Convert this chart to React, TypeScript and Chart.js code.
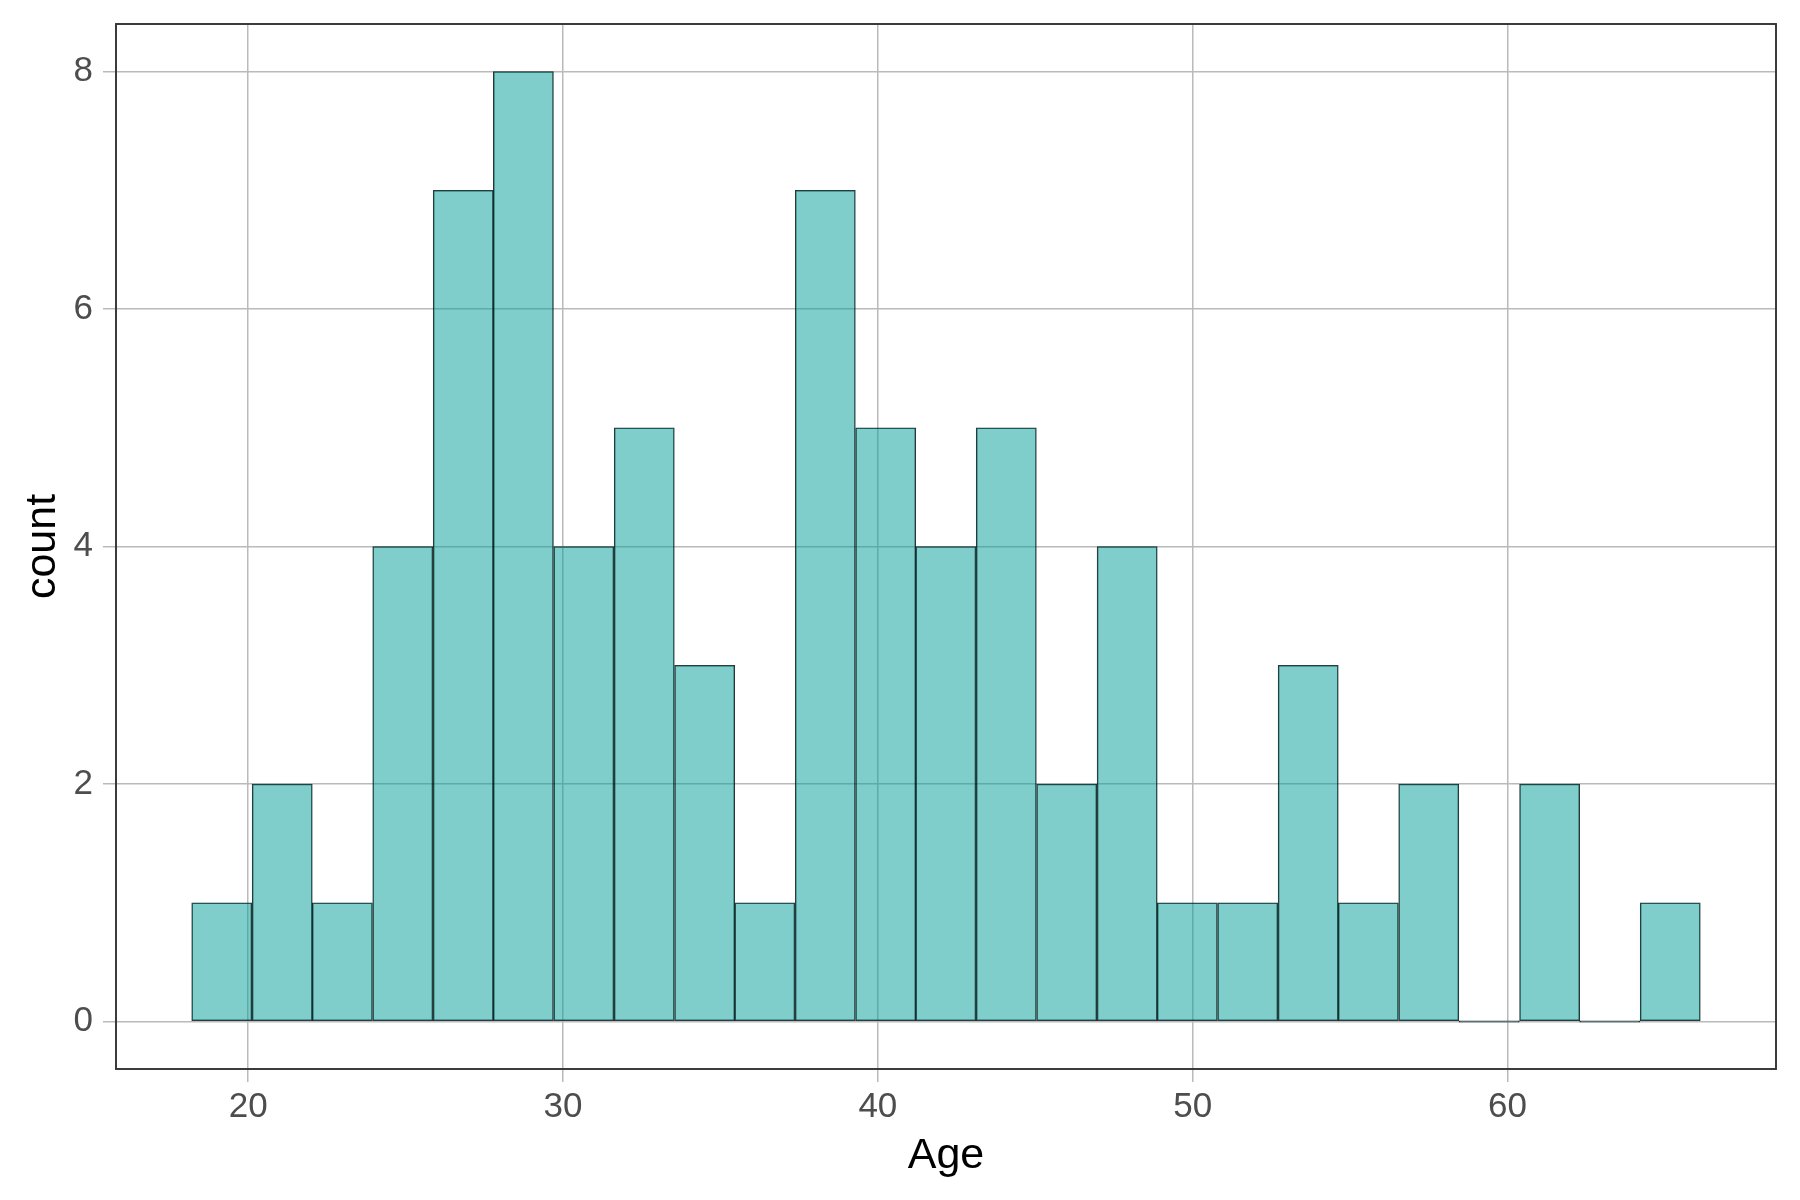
import React, { useEffect, useRef } from "react";
import { Chart, registerables } from "chart.js";

Chart.register(...registerables);

// Histogram of Age (25 bins, width ≈ 1.917)
const binCenters = [
  19.16, 21.08, 22.99, 24.91, 26.83, 28.74, 30.66, 32.58, 34.5, 36.41, 38.33, 40.25, 42.16,
  44.08, 46.0, 47.92, 49.83, 51.75, 53.67, 55.58, 57.5, 59.42, 61.34, 63.25, 65.17,
];
const counts = [1, 2, 1, 4, 7, 8, 4, 5, 3, 1, 7, 5, 4, 5, 2, 4, 1, 1, 3, 1, 2, 0, 2, 0, 1];
const xTicks = [20, 30, 40, 50, 60];
const yTicks = [0, 2, 4, 6, 8];
const xRange = [15.8, 68.53];
const yRange = [-0.4, 8.4];
const xTitle = "Age";
const yTitle = "count";

const FONT = "'Liberation Sans', Arial, Helvetica, sans-serif";

const panelBorder = {
  id: "panelBorder",
  afterDraw(chart: any) {
    const { ctx, chartArea: a } = chart;
    ctx.save();
    ctx.strokeStyle = "#333333";
    ctx.lineWidth = 1.9;
    ctx.strokeRect(a.left, a.top, a.right - a.left, a.bottom - a.top);
    ctx.restore();
  },
};

export default function App() {
  const ref = useRef<HTMLCanvasElement | null>(null);

  useEffect(() => {
    if (!ref.current) return;
    const chart = new Chart(ref.current, {
      type: "bar",
      data: {
        datasets: [
          {
            label: "count",
            data: binCenters.map((x, i) => ({ x, y: counts[i] })),
            backgroundColor: "rgba(0,157,151,0.5)",
            borderColor: "rgba(0,0,0,0.82)",
            borderWidth: 0.9,
            borderSkipped: false,
            minBarLength: 1.5,
            barPercentage: 1,
            categoryPercentage: 1,
          },
        ],
      },
      options: {
        responsive: false,
        animation: false,
        layout: { padding: { left: 0, top: 24, right: 24, bottom: 0 } },
        plugins: {
          legend: { display: false },
          tooltip: { enabled: false },
        },
        scales: {
          x: {
            type: "linear",
            offset: false,
            min: xRange[0],
            max: xRange[1],
            afterFit: (s: any) => {
              s.height = 131;
              s.paddingLeft = 0;
              s.paddingRight = 0;
            },
            afterBuildTicks: (s: any) => {
              s.ticks = xTicks.map((v) => ({ value: v }));
            },
            ticks: {
              color: "#4d4d4d",
              font: { family: FONT, size: 35 },
              padding: 4,
              maxRotation: 0,
              autoSkip: false,
            },
            grid: {
              offset: false,
              color: "#bababa",
              lineWidth: 1.5,
              tickLength: 13,
              drawTicks: true,
            },
            border: { display: false },
            title: {
              display: true,
              text: xTitle,
              color: "#000000",
              font: { family: FONT, size: 43, lineHeight: 1.2 },
              padding: { top: 0, bottom: 18 },
            },
          },
          y: {
            type: "linear",
            min: yRange[0],
            max: yRange[1],
            afterFit: (s: any) => {
              s.width = 116;
              s.paddingTop = 0;
              s.paddingBottom = 0;
            },
            afterBuildTicks: (s: any) => {
              s.ticks = yTicks.map((v) => ({ value: v }));
            },
            ticks: {
              color: "#4d4d4d",
              font: { family: FONT, size: 35 },
              padding: 10,
              autoSkip: false,
            },
            grid: {
              color: "#bababa",
              lineWidth: 1.5,
              tickLength: 13,
              drawTicks: true,
            },
            border: { display: false },
            title: {
              display: true,
              text: yTitle,
              color: "#000000",
              font: { family: FONT, size: 43, lineHeight: 1.2 },
              padding: { top: 17, bottom: 0 },
            },
          },
        },
      },
      plugins: [panelBorder],
    });
    return () => chart.destroy();
  }, []);

  return (
    <div style={{ position: "absolute", left: 0, top: 0, width: 1800, height: 1200, background: "#ffffff" }}>
      <canvas ref={ref} width={1800} height={1200} style={{ display: "block" }} />
    </div>
  );
}
